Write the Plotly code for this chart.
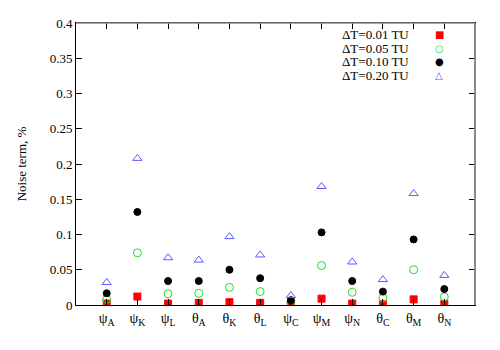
import plotly.graph_objects as go

categories = ["ψ<sub>A</sub>", "ψ<sub>K</sub>", "ψ<sub>L</sub>", "θ<sub>A</sub>", "θ<sub>K</sub>", "θ<sub>L</sub>",
              "ψ<sub>C</sub>", "ψ<sub>M</sub>", "ψ<sub>N</sub>", "θ<sub>C</sub>", "θ<sub>M</sub>", "θ<sub>N</sub>"]
positions = list(range(1, 13))

dt001 = [0.002, 0.012, 0.002, 0.003, 0.004, 0.003, 0.001, 0.009, 0.002, 0.001, 0.008, 0.0015]
dt005 = [0.008, 0.074, 0.016, 0.0166, 0.025, 0.019, 0.004, 0.056, 0.018, 0.010, 0.050, 0.0115]
dt010 = [0.0166, 0.132, 0.034, 0.034, 0.050, 0.038, 0.0069, 0.103, 0.034, 0.019, 0.093, 0.0226]
dt020 = [0.032, 0.208, 0.067, 0.0637, 0.097, 0.071, 0.0134, 0.168, 0.061, 0.036, 0.158, 0.042]

series_names = ["ΔT=0.01 TU", "ΔT=0.05 TU", "ΔT=0.10 TU", "ΔT=0.20 TU"]
series_values = [dt001, dt005, dt010, dt020]
series_colors = ["#ff0000", "#22dd22", "#000000", "#5a5aff"]
series_symbols = ["square", "circle-open", "circle", "triangle-up-open"]
series_sizes = [7, 8, 7, 8]
legend_glyphs = ["■", "○", "●", "△"]

y_ticks = [0, 0.05, 0.1, 0.15, 0.2, 0.25, 0.3, 0.35, 0.4]
y_ticktext = ["0", "0.05", "0.1", "0.15", "0.2", "0.25", "0.3", "0.35", "0.4"]

FONT = "Liberation Serif, Times New Roman, DejaVu Serif, serif"

fig = go.Figure()
for name, vals, col, sym, sz in zip(series_names, series_values, series_colors, series_symbols, series_sizes):
    fig.add_trace(go.Scatter(
        x=positions, y=vals, mode="markers", name=name,
        marker=dict(symbol=sym, color=col, size=sz, line=dict(color=col, width=1)),
        showlegend=False,
    ))

annotations = []
for i, (name, col, g) in enumerate(zip(series_names, series_colors, legend_glyphs)):
    yy = 1 - (12 + 13.8 * i) / 289
    annotations.append(dict(x=(411 - 76) / 399, y=yy, xref="paper", yref="paper", text=name,
                            showarrow=False, xanchor="right", yanchor="middle", height=13,
                            font=dict(family=FONT, size=13, color="black")))
    annotations.append(dict(x=(439 - 76) / 399, y=yy, xref="paper", yref="paper", text=g,
                            showarrow=False, xanchor="center", yanchor="middle", height=13,
                            font=dict(family="DejaVu Sans", size=10, color=col)))

fig.update_layout(
    width=492, height=342,
    margin=dict(l=68, r=25, t=8, b=45),
    paper_bgcolor="white", plot_bgcolor="white",
    font=dict(family=FONT, size=13, color="black"),
    annotations=annotations,
    xaxis=dict(range=[0, 13], tickvals=positions, ticktext=categories,
               showgrid=False, zeroline=False, showline=True, linecolor="black", linewidth=1,
               mirror="ticks", ticks="inside", ticklen=6, tickcolor="black",
               tickfont=dict(family=FONT, size=14)),
    yaxis=dict(range=[0, 0.4], tickvals=y_ticks, ticktext=y_ticktext,
               showgrid=False, zeroline=False, showline=True, linecolor="black", linewidth=1,
               mirror="ticks", ticks="inside", ticklen=6, tickcolor="black",
               tickfont=dict(family=FONT, size=13),
               title=dict(text="Noise term, %", font=dict(family=FONT, size=13), standoff=20)),
    shapes=[
        dict(type="line", xref="paper", yref="paper", x0=0, x1=1, y0=1, y1=1,
             line=dict(color="#888888", width=1.5)),
        dict(type="line", xref="paper", yref="paper", x0=1, x1=1, y0=0, y1=1,
             line=dict(color="#888888", width=2)),
    ],
)

fig.write_html("out.html")
